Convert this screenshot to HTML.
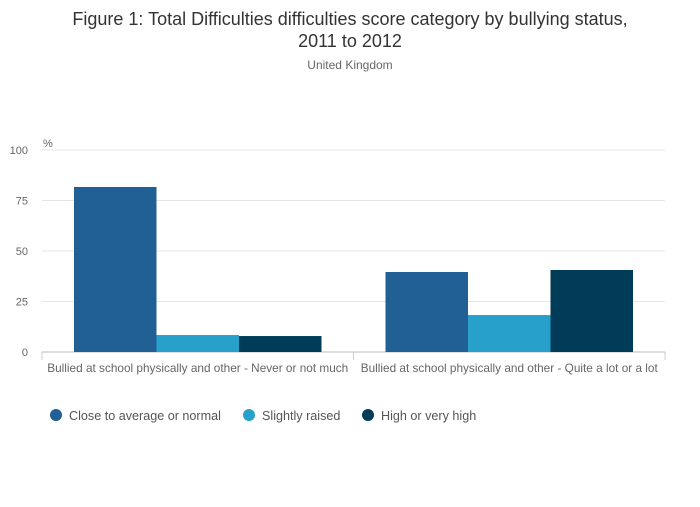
<!DOCTYPE html>
<html><head><meta charset="utf-8"><style>
body{margin:0;background:#fff;font-family:"Liberation Sans",sans-serif;}
svg text{font-family:"Liberation Sans",sans-serif;}
</style></head><body>
<svg width="700" height="502">
<text x="350" y="25" text-anchor="middle" font-size="18" fill="#333">Figure 1: Total Difficulties difficulties score category by bullying status,</text>
<text x="350" y="47" text-anchor="middle" font-size="18" fill="#333">2011 to 2012</text>
<text x="350" y="69" text-anchor="middle" font-size="12" fill="#666">United Kingdom</text>
<text x="43" y="147" font-size="11" fill="#666">%</text>
<g id="grid"></g><g id="bars"></g><g id="xl"></g>
<g id="legend"></g>
</svg>
<script>
const categories=["Bullied at school physically and other - Never or not much","Bullied at school physically and other - Quite a lot or a lot"];
const seriesNames=["Close to average or normal","Slightly raised","High or very high"];
const closeToAverage=[81.7,39.6];
const slightlyRaised=[8.4,18.3];
const highOrVeryHigh=[7.9,40.6];
const yTicks=[0,25,50,75,100];
const colors=["#206095","#27a0cc","#003c57"];
const series=[closeToAverage,slightlyRaised,highOrVeryHigh];
const NS="http://www.w3.org/2000/svg";
const x0=42,x1=665,y0=352,y100=150;
const y=v=>y0-(v/100)*(y0-y100);
const gw=(x1-x0)/categories.length, pad=32, bw=(gw-2*pad)/series.length;
function mk(t,a,p){const e=document.createElementNS(NS,t);for(const k in a)e.setAttribute(k,a[k]);p.appendChild(e);return e;}
const grid=document.getElementById('grid');
yTicks.forEach(t=>{
 const l=mk('line',{x1:x0,x2:x1,y1:y(t),y2:y(t),stroke:t===0?'#bbb':'#e5e5e5'},grid);
 
 
 const tx=mk('text',{x:28,y:y(t)+4,'text-anchor':'end','font-size':11,fill:'#666'},grid);tx.textContent=t;
 
 
});
[x0,x0+gw,x1].forEach(xx=>{const l=mk('line',{x1:xx,x2:xx,y1:y0,y2:y0+8,stroke:'#ccc'},grid);
 
 });
const bars=document.getElementById('bars');
categories.forEach((c,i)=>{
 series.forEach((s,j)=>{
  const r=mk('rect',{x:x0+i*gw+pad+j*bw,y:y(s[i]),width:bw,height:y0-y(s[i]),fill:colors[j]},bars);
  
  
 });
 const t=mk('text',{x:x0+i*gw+gw/2,y:372,'text-anchor':'middle','font-size':11.8,fill:'#666'},document.getElementById('xl'));t.textContent=c;
 
 
});
const lg=document.getElementById('legend');
const lx=[56,249,368];
seriesNames.forEach((n,j)=>{
 const g=mk('g',{},lg);
 
 
 mk('circle',{cx:lx[j],cy:415,r:6,fill:colors[j]},g);
 const t=mk('text',{x:lx[j]+13,y:420,'font-size':12.6,fill:'#555'},g);t.textContent=n;
});
</script>
</body></html>
